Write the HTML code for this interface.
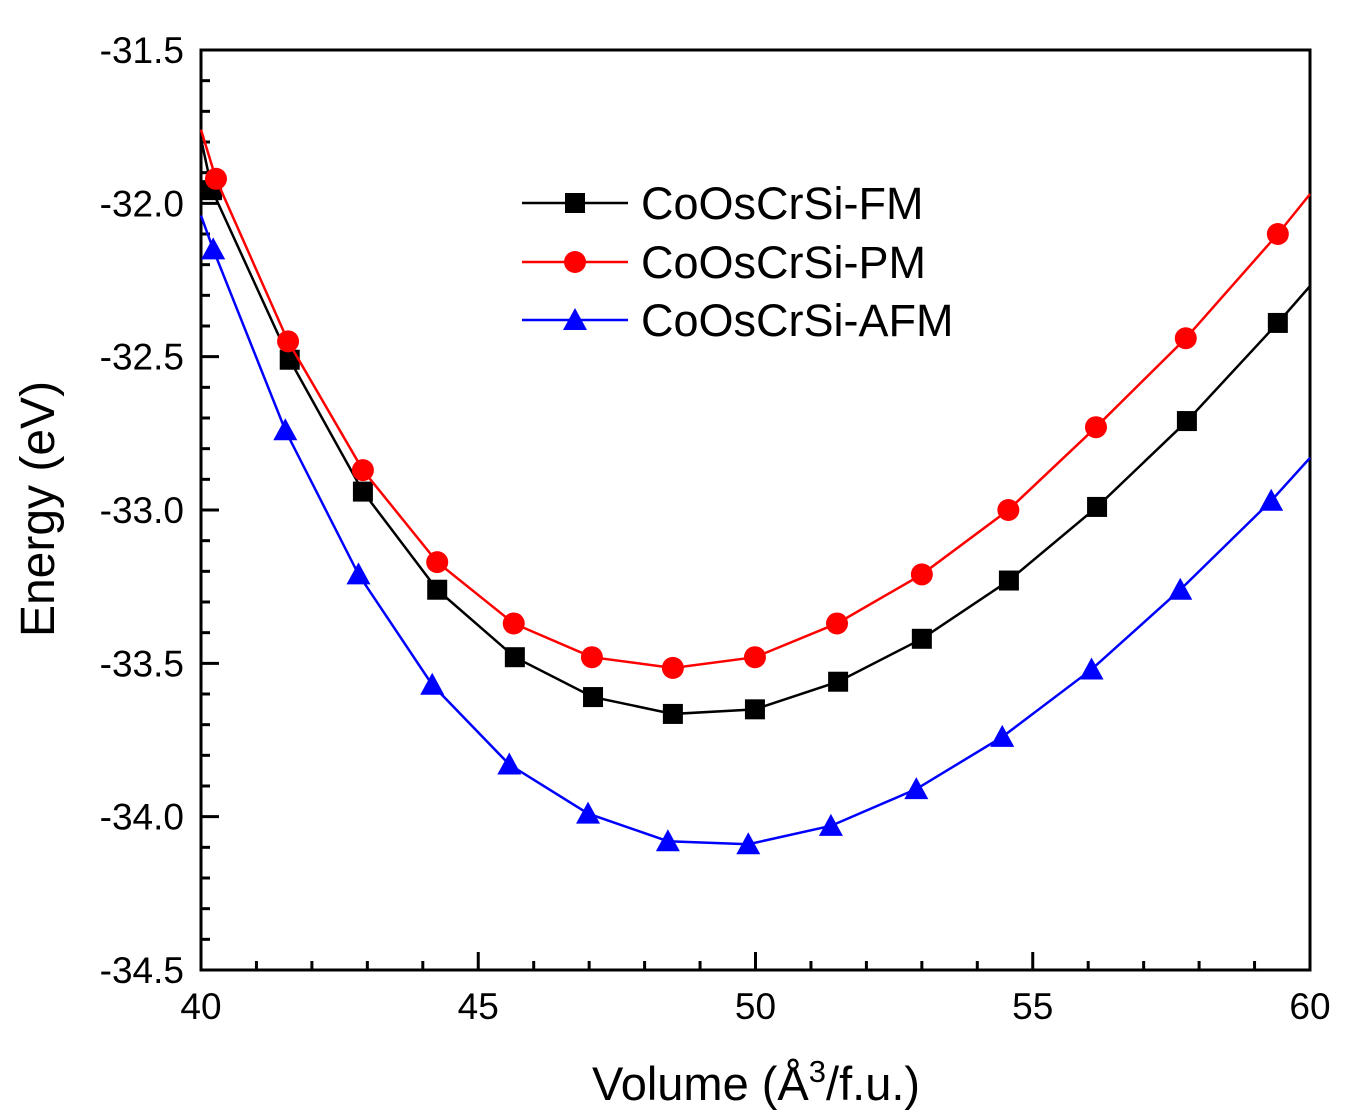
<!DOCTYPE html>
<html><head><meta charset="utf-8"><style>
body{margin:0;background:#fff;}
svg{display:block;font-family:"Liberation Sans",Arial,sans-serif;}
</style></head><body>
<svg id="chart" width="1355" height="1118"></svg>
<script>
const xTicks=[40,45,50,55,60];
const yTicks=[-31.5,-32.0,-32.5,-33.0,-33.5,-34.0,-34.5];
const vol=[40.2,41.6,42.92,44.26,45.66,47.07,48.51,49.99,51.49,53.0,54.57,56.16,57.78,59.42];
const eFM=[-31.957,-32.51,-32.94,-33.26,-33.48,-33.61,-33.665,-33.65,-33.56,-33.42,-33.23,-32.99,-32.71,-32.39];
const volPM=[40.27,41.57,42.92,44.26,45.64,47.05,48.51,49.99,51.47,53.0,54.56,56.14,57.76,59.42];
const ePM=[-31.92,-32.45,-32.87,-33.17,-33.37,-33.48,-33.515,-33.48,-33.37,-33.21,-33.0,-32.73,-32.44,-32.10];
const volAFM=[40.22,41.52,42.84,44.17,45.56,46.98,48.42,49.87,51.36,52.9,54.45,56.06,57.66,59.3];
const eAFM=[-32.15,-32.74,-33.21,-33.57,-33.83,-33.99,-34.08,-34.09,-34.03,-33.91,-33.74,-33.52,-33.26,-32.97];
const edgeFM=[-31.79,-32.27], edgePM=[-31.76,-31.97], edgeAFM=[-32.04,-32.83];
const NS="http://www.w3.org/2000/svg";
const svg=document.getElementById('chart');
const X0=201,X1=1310,Y0=50,Y1=970;
const sx=v=>X0+(v-40)/20*(X1-X0);
const sy=v=>Y0+(-31.5-v)/3*(Y1-Y0);
function el(t,a,p){const e=document.createElementNS(NS,t);for(const k in a)e.setAttribute(k,a[k]);(p||svg).appendChild(e);return e;}
const box=el('rect',{x:X0,y:Y0,width:X1-X0,height:Y1-Y0,fill:'none',stroke:'#000','stroke-width':3});


for(let v=40;v<=60;v++){const maj=v%5===0;const t=el('line',{x1:sx(v),x2:sx(v),y1:Y1,y2:Y1-(maj?18:9),stroke:'#000','stroke-width':3});

}
xTicks.forEach(v=>{const t=el('text',{x:sx(v),y:1019,'font-size':37,'text-anchor':'middle'});t.textContent=v;

});
for(let i=0;i<=30;i++){const v=-31.5-i*0.1;const maj=i%5===0;const t=el('line',{x1:X0,x2:X0+(maj?18:9),y1:sy(v),y2:sy(v),stroke:'#000','stroke-width':3});

}
yTicks.forEach(v=>{const t=el('text',{x:184,y:sy(v)+13,'font-size':37,'text-anchor':'end'});t.textContent=v.toFixed(1);

});
const xt=el('text',{x:756,y:1100,'font-size':47,'text-anchor':'middle'});
xt.innerHTML='Volume (Å<tspan dy="-18" font-size="31">3</tspan><tspan dy="18">/f.u.)</tspan>';


const yt=el('text',{x:0,y:0,'font-size':48,'text-anchor':'middle',transform:'translate(54,509) rotate(-90)'});
yt.textContent='Energy (eV)';


function marker(type,x,y,c,g){
 if(type==='sq') return el('rect',{x:x-10,y:y-10,width:20,height:20,fill:c},g);
 if(type==='ci') return el('circle',{cx:x,cy:y,r:11,fill:c},g);
 return el('polygon',{points:`${x},${y-12} ${x-12},${y+10} ${x+12},${y+10}`,fill:c},g);
}
function series(name,xs,ys,edge,c,type){
 const g=el('g',{});
 
 
 const pts=[[40,edge[0]],...xs.map((x,i)=>[x,ys[i]]),[60,edge[1]]];
 const l=el('polyline',{points:pts.map(p=>sx(p[0])+','+sy(p[1])).join(' '),fill:'none',stroke:c,'stroke-width':2.5},g);
 
 
 xs.forEach((x,i)=>{const m=marker(type,sx(x),sy(ys[i]),c,g);
 
 });
}
series('fm',vol,eFM,edgeFM,'#000','sq');
series('pm',volPM,ePM,edgePM,'#f00','ci');
series('afm',volAFM,eAFM,edgeAFM,'#00f','tri');
const leg=[['CoOsCrSi-FM','#000','sq',203],['CoOsCrSi-PM','#f00','ci',262],['CoOsCrSi-AFM','#00f','tri',320]];
leg.forEach(([n,c,t,y])=>{const g=el('g',{});
 
 
 el('line',{x1:522,x2:628,y1:y,y2:y,stroke:c,'stroke-width':2.5},g);
 marker(t,575,y,c,g);
 const tx=el('text',{x:641,y:y+16,'font-size':45},g);tx.textContent=n;});
</script>
</body></html>
